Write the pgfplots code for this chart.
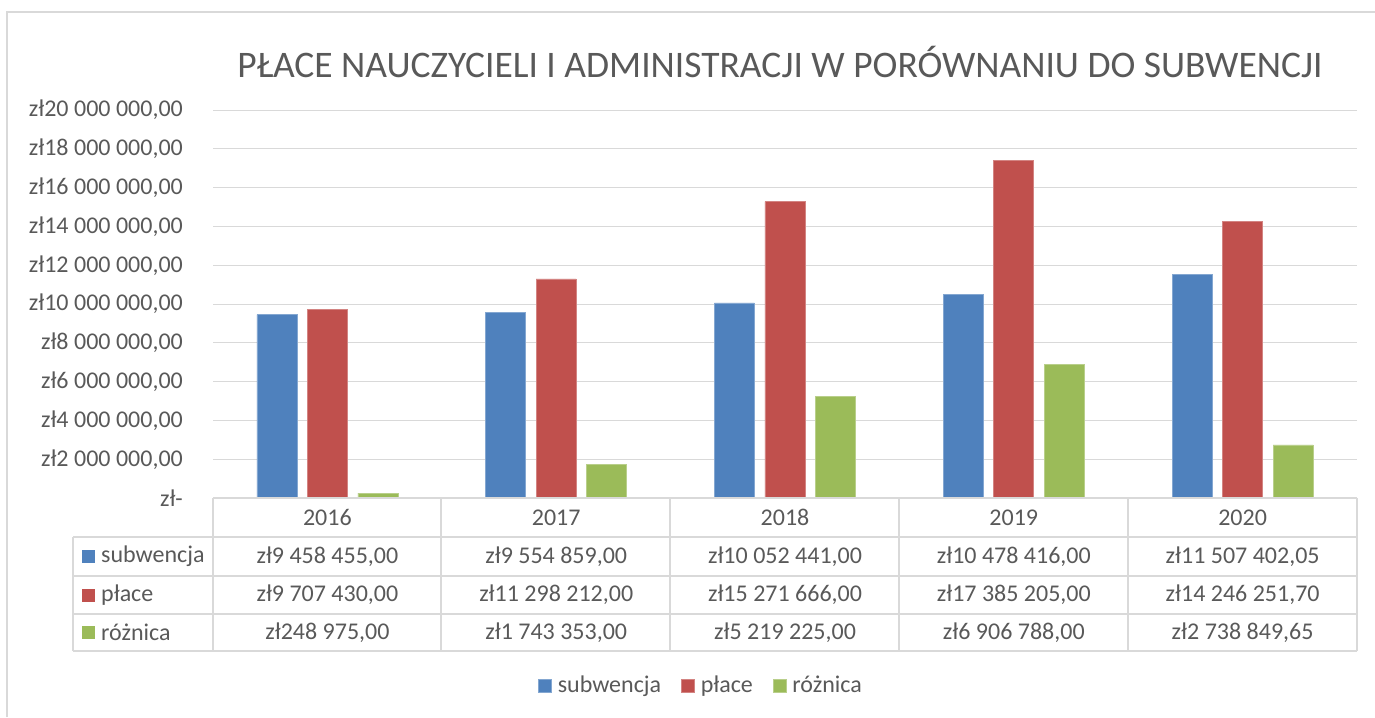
\documentclass[border=0pt]{standalone}
\usepackage{pgfplots}
\pgfplotsset{compat=1.18}
\usepackage{fontspec}
\setmainfont{Carlito}
\definecolor{cblue}{HTML}{4F81BD}
\definecolor{cred}{HTML}{C0504D}
\definecolor{cgreen}{HTML}{9BBB59}
\definecolor{tgray}{HTML}{595959}
\definecolor{lgray}{HTML}{D9D9D9}
\begin{document}
\fontsize{24}{28}\selectfont
\begin{tikzpicture}
\useasboundingbox (0pt,0pt) rectangle (1375pt,-717pt);
\begin{axis}[
  at={(213pt,-498pt)}, anchor=south west,
  scale only axis, width=1144pt, height=388pt,
  xmin=-0.5, xmax=4.5, ymin=0, ymax=20000000,
  ybar=10.5pt, bar width=40pt,
  axis line style={draw=none},
  xtick=\empty,
  ytick={0,2000000,4000000,6000000,8000000,10000000,12000000,14000000,16000000,18000000,20000000},
  yticklabels={{zł-\hspace{10pt}},{zł2 000 000,00},{zł4 000 000,00},{zł6 000 000,00},{zł8 000 000,00},{zł10 000 000,00},{zł12 000 000,00},{zł14 000 000,00},{zł16 000 000,00},{zł18 000 000,00},{zł20 000 000,00}},
  scaled y ticks=false,
  ymajorgrids, grid style={lgray, line width=1pt},
  major tick length=0pt,
  yticklabel style={text=tgray, anchor=east, inner sep=0pt, xshift=-30pt, font=\fontsize{24}{28}\selectfont},
  clip=false,
  legend style={at={(0.4266,-0.4845)}, anchor=center, draw=none, fill=none,
    legend columns=3, text=tgray, font=\fontsize{24}{28}\selectfont,
    /tikz/every odd column/.append style={column sep=4pt},
    /tikz/every even column/.append style={column sep=18pt},
    inner sep=0pt, row sep=0pt},
  legend image code/.code={\fill[#1] (0pt,-6.5pt) rectangle (13pt,6.5pt);},
]
\addplot[fill=cblue, draw=cblue!70!white, line width=0.6pt] coordinates {(0,9458455) (1,9554859) (2,10052441) (3,10478416) (4,11507402.05)};
\addplot[fill=cred, draw=cred!70!white, line width=0.6pt] coordinates {(0,9707430) (1,11298212) (2,15271666) (3,17385205) (4,14246251.70)};
\addplot[fill=cgreen, draw=cgreen!70!white, line width=0.6pt] coordinates {(0,248975) (1,1743353) (2,5219225) (3,6906788) (4,2738849.65)};
\legend{subwencja,płace,różnica}
\end{axis}
\begin{scope}[x=1pt,y=-1pt]
% outer chart border
\draw[lgray, line width=2pt] (7,717) -- (7,12) -- (1375,12);
% title
\node[text=tgray, font=\fontsize{37.5}{44}\selectfont] at (780,62) {PŁACE NAUCZYCIELI I ADMINISTRACJI W PORÓWNANIU DO SUBWENCJI};
% data table
\begin{scope}[lgray, line width=1.5pt]
\draw (213,498) -- (1357,498);
\foreach \y in {537,576,614,651} \draw (73,\y) -- (1357,\y);
\draw (73,537) -- (73,651);
\foreach \x in {213,441,670,899,1128,1357} \draw (\x,498) -- (\x,651);
\end{scope}
\begin{scope}[text=tgray]
\node at (327.4,517.5) {2016};
\node at (556.2,517.5) {2017};
\node at (785,517.5) {2018};
\node at (1013.8,517.5) {2019};
\node at (1242.6,517.5) {2020};
\node at (327.4,556.5) {zł9 458 455,00};
\node at (556.2,556.5) {zł9 554 859,00};
\node at (785,556.5) {zł10 052 441,00};
\node at (1013.8,556.5) {zł10 478 416,00};
\node at (1242.6,556.5) {zł11 507 402,05};
\node at (327.4,595) {zł9 707 430,00};
\node at (556.2,595) {zł11 298 212,00};
\node at (785,595) {zł15 271 666,00};
\node at (1013.8,595) {zł17 385 205,00};
\node at (1242.6,595) {zł14 246 251,70};
\node at (327.4,632.5) {zł248 975,00};
\node at (556.2,632.5) {zł1 743 353,00};
\node at (785,632.5) {zł5 219 225,00};
\node at (1013.8,632.5) {zł6 906 788,00};
\node at (1242.6,632.5) {zł2 738 849,65};
\fill[cblue] (82,550) rectangle (95,563);
\fill[cred] (82,588.5) rectangle (95,601.5);
\fill[cgreen] (82,626) rectangle (95,639);
\node[anchor=west, inner sep=0pt] at (101,556.5) {subwencja};
\node[anchor=west, inner sep=0pt] at (101,595) {płace};
\node[anchor=west, inner sep=0pt] at (101,632.5) {różnica};
\end{scope}
\end{scope}
\end{tikzpicture}
\end{document}
